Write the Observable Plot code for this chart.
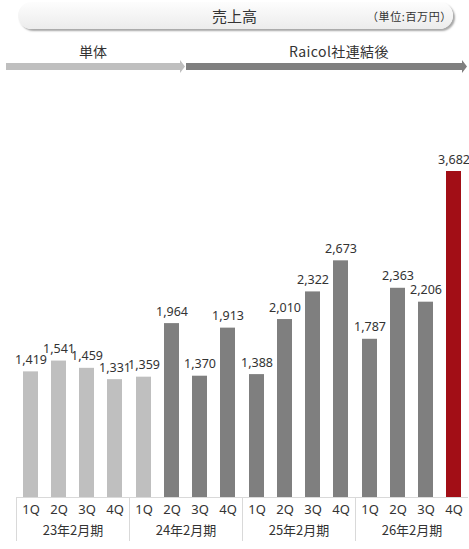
<!DOCTYPE html>
<html>
<head>
<meta charset="utf-8">
<script src="https://cdn.jsdelivr.net/npm/d3@7"></script>
<script src="https://cdn.jsdelivr.net/npm/@observablehq/plot@0.6"></script>
<style>
  html, body { margin: 0; padding: 0; background: #fff; }
  body { width: 469px; height: 549px; overflow: hidden; font-family: "Noto Sans", "Noto Sans CJK JP", sans-serif; color: #333; }
  #header { position: relative; width: 469px; height: 80px; }
  #pill { position: absolute; left: 18px; top: 2px; width: 435px; height: 27px; border-radius: 14px;
          background: linear-gradient(#fdfdfd, #ececec); box-shadow: 2px 2px 2px rgba(0,0,0,0.35); }
  #title { position: absolute; left: 0; width: 469px; top: 5px; text-align: center; font-size: 15px; font-family: "Noto Sans CJK JP", sans-serif; color: #333; }
  #unit { position: absolute; left: 367px; top: 8px; font-size: 11px; letter-spacing: 0.6px; font-family: "Noto Sans CJK JP", sans-serif; color: #333; }
  .seg { position: absolute; top: 41px; font-size: 14px; font-family: "Noto Sans CJK JP", sans-serif; color: #333; transform: translateX(-50%); white-space: nowrap; }
  #arrows { position: absolute; left: 0; top: 0; }
</style>
</head>
<body>
<div id="header">
  <div id="pill"></div>
  <div id="title">売上高</div>
  <div id="unit">（単位:百万円）</div>
  <div class="seg" style="left:93px">単体</div>
  <div class="seg" style="left:339px; letter-spacing: 0.4px">Raicol社連結後</div>
  <svg id="arrows" width="469" height="80">
    <polygon points="6,63 180,63 180,60 185,66.5 180,73 180,70 6,70" fill="#bfbfbf"/>
    <polygon points="186,63 462,63 462,60 467,66.5 462,73 462,70 186,70" fill="#7f7f7f"/>
  </svg>
</div>
<div id="chart"></div>
<script>
const years = ["23年2月期", "24年2月期", "25年2月期", "26年2月期"];
const quarters = ["1Q", "2Q", "3Q", "4Q"];
const sales = [1419, 1541, 1459, 1331, 1359, 1964, 1370, 1913, 1388, 2010, 2322, 2673, 1787, 2363, 2206, 3682];
const types = ["単体", "単体", "単体", "単体", "単体", "連結", "連結", "連結", "連結", "連結", "連結", "連結", "連結", "連結", "連結", "最新"];
const typeNames = ["単体", "連結", "最新"];
const typeColors = ["#bfbfbf", "#7f7f7f", "#a20e16"];

const data = sales.map((v, i) => ({
  year: years[Math.floor(i / 4)],
  q: quarters[i % 4],
  value: v,
  type: types[i]
}));

const fmt = d3.format(",");

const chart = Plot.plot({
  width: 469,
  height: 469,
  marginTop: 91,
  marginBottom: 52,
  marginLeft: 14,
  marginRight: 0,
  style: { fontFamily: "'Noto Sans', 'Noto Sans CJK JP', sans-serif", fontSize: "12px", color: "#333", background: "transparent" },
  fx: { domain: years, padding: 0 },
  x: { domain: quarters, paddingInner: 0.474, paddingOuter: 0.237 },
  y: { domain: [0, 3682], axis: null },
  color: { domain: typeNames, range: typeColors },
  marks: [
    Plot.barY(data, { fx: "year", x: "q", y: "value", fill: "type" }),
    Plot.text(data, { fx: "year", x: "q", y: "value", text: d => fmt(d.value), lineAnchor: "bottom", dy: -8, fontSize: 12.5, fill: "#333" }),
    Plot.ruleY([0], { stroke: "#d9d9d9" }),
    Plot.frame({ anchor: "left", insetTop: 326, insetBottom: -43, stroke: "#d9d9d9" }),
    Plot.axisX({ anchor: "bottom", tickSize: 0, tickPadding: 7, fontSize: 13, label: null }),
    Plot.axisFx({ anchor: "bottom", tickSize: 0, tickPadding: 28, fontSize: 13, label: null, fontFamily: "'Noto Sans CJK JP', sans-serif" })
  ]
});
document.getElementById("chart").appendChild(chart);
</script>
</body>
</html>
